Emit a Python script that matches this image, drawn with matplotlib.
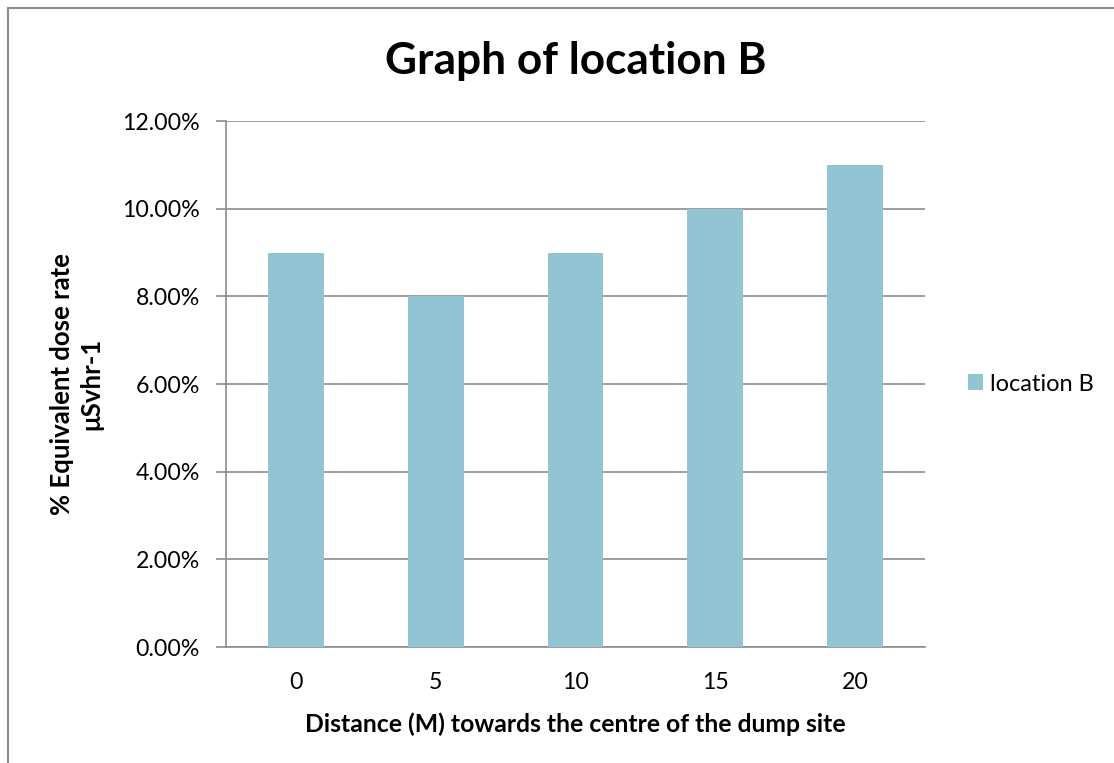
import numpy as np
import matplotlib.pyplot as plt
from matplotlib.lines import Line2D
from matplotlib.ticker import PercentFormatter

distances = ['0', '5', '10', '15', '20']
dose_rate = [0.09, 0.08, 0.09, 0.10, 0.11]
series_name = 'location B'

plt.rcParams['font.family'] = ['Lato', 'DejaVu Sans']

fig = plt.figure(figsize=(11.14, 7.63), dpi=100)
ax = fig.add_axes([0.2029, 0.152, 0.6274, 0.6894])

x = np.arange(len(distances))
ax.bar(x, dose_rate, width=0.4, color='#93C4D4', label=series_name, zorder=3)

ax.set_xlim(-0.5, len(distances) - 0.5)
ax.set_ylim(0, 0.12)
ax.set_yticks(np.arange(0, 0.121, 0.02))
ax.yaxis.set_major_formatter(PercentFormatter(1.0, decimals=2))
ax.set_xticks(x)
ax.set_xticklabels(distances)

ax.grid(axis='y', color='#8c8c8c', linewidth=1.2, zorder=0)
for s in ['top', 'right']:
    ax.spines[s].set_visible(False)
for s in ['left', 'bottom']:
    ax.spines[s].set_color('#8c8c8c')
    ax.spines[s].set_linewidth(1.2)
ax.tick_params(axis='y', length=7, width=1.2, color='#8c8c8c', labelsize=16.7, pad=12)
ax.tick_params(axis='x', length=0, labelsize=16.7, pad=18)

ax.set_title('Graph of location B', fontsize=31.8, fontweight='bold', pad=34)
ax.set_xlabel('Distance (M) towards the centre of the dump site', fontsize=17.8,
              fontweight='bold', labelpad=14)
ax.set_ylabel('% Equivalent dose rate\nμSvhr-1', fontsize=18.5, fontweight='bold',
              labelpad=13, linespacing=1.3)

ax.legend(loc='center left', bbox_to_anchor=(1.031, 0.5), frameon=False,
          fontsize=17, handlelength=0.65, handleheight=0.65, handletextpad=0.3)

# chart frame (left and top edges)
fig.add_artist(Line2D([0.0072, 0.0072], [0.0, 0.9895], color='#8c8c8c', linewidth=1.5))
fig.add_artist(Line2D([0.0072, 1.0], [0.9895, 0.9895], color='#8c8c8c', linewidth=1.5))

fig.savefig('out.png', dpi=100)
